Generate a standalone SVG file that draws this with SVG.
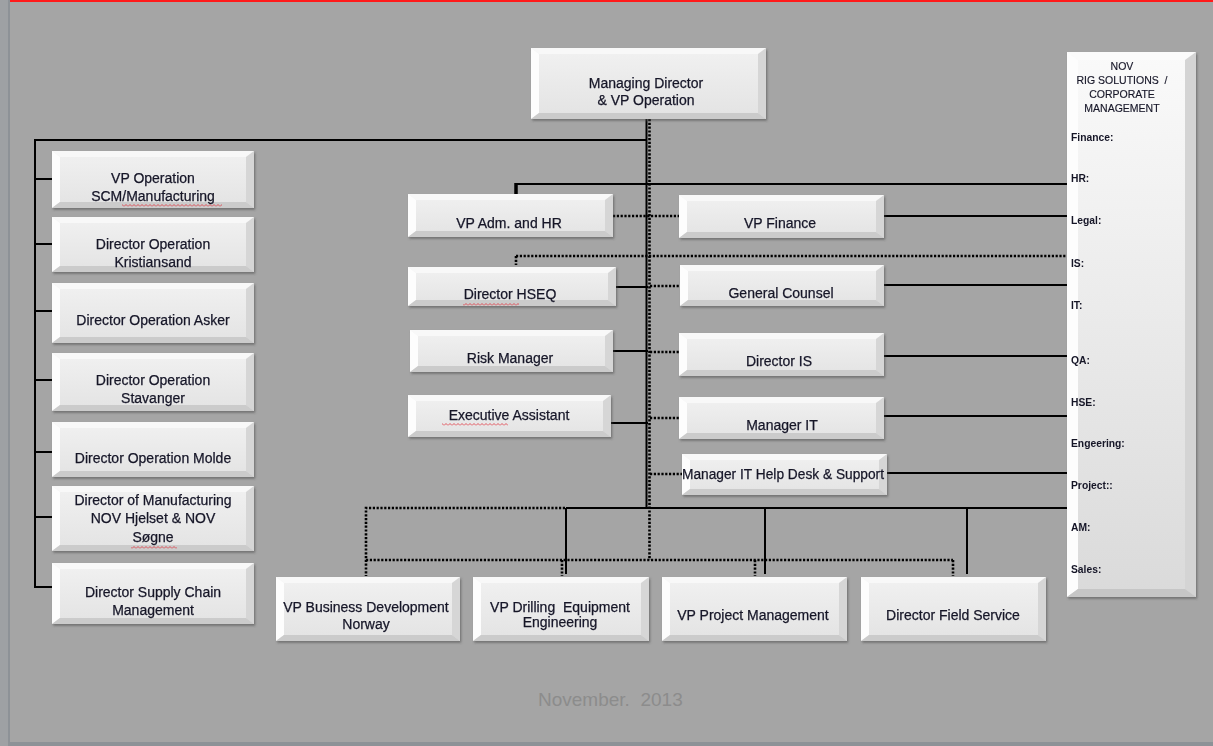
<svg xmlns="http://www.w3.org/2000/svg" width="1213" height="746" viewBox="0 0 1213 746">
  <defs>
    <linearGradient id="faceG" x1="0" y1="0" x2="0" y2="1">
      <stop offset="0" stop-color="#f1f1f1"/>
      <stop offset="1" stop-color="#e3e3e3"/>
    </linearGradient>
    <linearGradient id="panelG" x1="0" y1="0" x2="0" y2="1">
      <stop offset="0" stop-color="#fafafa"/>
      <stop offset="1" stop-color="#dadada"/>
    </linearGradient>
    <filter id="shadow" x="-5%" y="-10%" width="115%" height="130%">
      <feDropShadow dx="1.2" dy="1.8" stdDeviation="1.1" flood-color="#4a4a4a" flood-opacity="0.55"/>
    </filter>
    <pattern id="squiggle" width="4" height="3" patternUnits="userSpaceOnUse">
      <path d="M0,2.5 L2,0.5 L4,2.5" fill="none" stroke="#e0303a" stroke-width="0.8"/>
    </pattern>
  </defs>
  <style>
    .face { fill: url(#faceG); }
    .bt { fill: #f8f8f8; }
    .bl { fill: #fdfdfd; }
    .br { fill: #d6d6d6; }
    .bb { fill: #cbcbcb; }
    .box { filter: url(#shadow); }
    .t { font-family: "Liberation Sans", Arial, sans-serif; font-size: 14px; fill: #161628; stroke: #161628; stroke-width: 0.25; text-anchor: middle; }
    .pt { font-family: "Liberation Sans", Arial, sans-serif; font-size: 10.5px; fill: #161628; stroke: #161628; stroke-width: 0.15; text-anchor: middle; }
    .pl { font-family: "Liberation Sans", Arial, sans-serif; font-size: 10.3px; font-weight: bold; fill: #161628; }
    .solid { fill: none; stroke: #000; stroke-width: 2; }
    .dot { fill: none; stroke: #000; stroke-width: 2.6; stroke-dasharray: 2.2 1.6; }
    .sq { fill: url(#squiggle); }
  </style>

  <!-- slide background -->
  <rect x="0" y="0" width="1213" height="746" fill="#8d9297"/>
  <rect x="0" y="0" width="8" height="746" fill="#9ea1a4"/>
  <rect x="10" y="0" width="1203" height="742" fill="#a5a5a5"/>
  <rect x="10" y="0" width="1203" height="2" fill="#ff1a1a"/>

  <!-- connectors -->
  <g id="connectors">
    <!-- main trunk -->
    <line class="solid" x1="646.5" y1="119" x2="646.5" y2="508" stroke-width="2.5"/>
    <line class="dot" x1="649.5" y1="119" x2="649.5" y2="560" stroke-width="3.5"/>
    <!-- left column bus -->
    <polyline class="solid" points="647,140 35,140 35,587 52,587"/>
    <line class="solid" x1="35" y1="179" x2="52" y2="179"/>
    <line class="solid" x1="35" y1="244" x2="52" y2="244"/>
    <line class="solid" x1="35" y1="311" x2="52" y2="311"/>
    <line class="solid" x1="35" y1="380" x2="52" y2="380"/>
    <line class="solid" x1="35" y1="452" x2="52" y2="452"/>
    <line class="solid" x1="35" y1="517" x2="52" y2="517"/>
    <!-- HR line and VP Adm stub -->
    <line class="solid" x1="516" y1="184" x2="1067" y2="184"/>
    <line x1="516" y1="183" x2="516" y2="194" stroke="#000" stroke-width="3.5"/>
    <!-- IS dotted line and stub -->
    <line class="dot" x1="516" y1="256" x2="1067" y2="256"/>
    <line class="dot" x1="516" y1="256" x2="516" y2="265" stroke-width="3"/>
    <!-- VP Adm to VP Finance -->
    <line class="dot" x1="613" y1="216" x2="679" y2="216"/>
    <!-- middle rows -->
    <line class="solid" x1="616" y1="287" x2="648" y2="287"/>
    <line class="dot" x1="650" y1="286" x2="680" y2="286"/>
    <line class="solid" x1="613" y1="351" x2="648" y2="351"/>
    <line class="dot" x1="650" y1="352" x2="679" y2="352"/>
    <line class="solid" x1="611" y1="423" x2="648" y2="423"/>
    <line class="dot" x1="650" y1="418" x2="679" y2="418"/>
    <line class="dot" x1="650" y1="474" x2="682" y2="474"/>
    <!-- lines to corporate panel -->
    <line class="solid" x1="884" y1="216" x2="1067" y2="216"/>
    <line class="solid" x1="884" y1="285" x2="1067" y2="285"/>
    <line class="solid" x1="884" y1="356" x2="1067" y2="356"/>
    <line class="solid" x1="884" y1="416" x2="1067" y2="416"/>
    <line class="solid" x1="887" y1="473" x2="1067" y2="473"/>
    <!-- bottom solid bus -->
    <line class="solid" x1="566" y1="508" x2="1067" y2="508"/>
    <line class="solid" x1="566" y1="508" x2="566" y2="574"/>
    <line class="solid" x1="765" y1="508" x2="765" y2="574"/>
    <line class="solid" x1="967" y1="508" x2="967" y2="574"/>
    <!-- bottom dotted bus -->
    <polyline class="dot" points="565,508 366,508 366,576"/>
    <line class="dot" x1="366" y1="560" x2="953" y2="560"/>
    <line class="dot" x1="562" y1="560" x2="562" y2="576"/>
    <line class="dot" x1="755" y1="560" x2="755" y2="576"/>
    <line class="dot" x1="953" y1="560" x2="953" y2="576"/>
  </g>

  <!-- top node -->
  <g id="managing-director" class="box">
    <rect class="face" x="531" y="48" width="235" height="71"/>
    <polygon class="bt" points="531,48 766,48 758,54 539,54"/>
    <polygon class="bl" points="531,48 539,54 539,113 531,119"/>
    <polygon class="br" points="766,48 766,119 758,113 758,54"/>
    <polygon class="bb" points="531,119 539,113 758,113 766,119"/>
    <text class="t" x="646" y="88">Managing Director</text>
    <text class="t" x="646" y="105">&amp; VP Operation</text>
  </g>

  <!-- left column -->
  <g id="vp-operation-scm" class="box">
    <rect class="face" x="52" y="151" width="202" height="57"/>
    <polygon class="bt" points="52,151 254,151 246,157 60,157"/>
    <polygon class="bl" points="52,151 60,157 60,202 52,208"/>
    <polygon class="br" points="254,151 254,208 246,202 246,157"/>
    <polygon class="bb" points="52,208 60,202 246,202 254,208"/>
    <text class="t" x="153" y="183">VP Operation</text>
    <text class="t" x="153" y="201">SCM/Manufacturing</text>
    <rect class="sq" x="122" y="204" width="100" height="3"/>
  </g>
  <g id="director-kristiansand" class="box">
    <rect class="face" x="52" y="217" width="202" height="55"/>
    <polygon class="bt" points="52,217 254,217 246,223 60,223"/>
    <polygon class="bl" points="52,217 60,223 60,266 52,272"/>
    <polygon class="br" points="254,217 254,272 246,266 246,223"/>
    <polygon class="bb" points="52,272 60,266 246,266 254,272"/>
    <text class="t" x="153" y="249">Director Operation</text>
    <text class="t" x="153" y="267">Kristiansand</text>
  </g>
  <g id="director-asker" class="box">
    <rect class="face" x="52" y="283" width="202" height="60"/>
    <polygon class="bt" points="52,283 254,283 246,289 60,289"/>
    <polygon class="bl" points="52,283 60,289 60,337 52,343"/>
    <polygon class="br" points="254,283 254,343 246,337 246,289"/>
    <polygon class="bb" points="52,343 60,337 246,337 254,343"/>
    <text class="t" x="153" y="325">Director Operation Asker</text>
  </g>
  <g id="director-stavanger" class="box">
    <rect class="face" x="52" y="353" width="202" height="58"/>
    <polygon class="bt" points="52,353 254,353 246,359 60,359"/>
    <polygon class="bl" points="52,353 60,359 60,405 52,411"/>
    <polygon class="br" points="254,353 254,411 246,405 246,359"/>
    <polygon class="bb" points="52,411 60,405 246,405 254,411"/>
    <text class="t" x="153" y="385">Director Operation</text>
    <text class="t" x="153" y="403">Stavanger</text>
  </g>
  <g id="director-molde" class="box">
    <rect class="face" x="52" y="422" width="202" height="55"/>
    <polygon class="bt" points="52,422 254,422 246,428 60,428"/>
    <polygon class="bl" points="52,422 60,428 60,471 52,477"/>
    <polygon class="br" points="254,422 254,477 246,471 246,428"/>
    <polygon class="bb" points="52,477 60,471 246,471 254,477"/>
    <text class="t" x="153" y="463">Director Operation Molde</text>
  </g>
  <g id="director-manufacturing" class="box">
    <rect class="face" x="52" y="486" width="202" height="65"/>
    <polygon class="bt" points="52,486 254,486 246,492 60,492"/>
    <polygon class="bl" points="52,486 60,492 60,545 52,551"/>
    <polygon class="br" points="254,486 254,551 246,545 246,492"/>
    <polygon class="bb" points="52,551 60,545 246,545 254,551"/>
    <text class="t" x="153" y="505">Director of Manufacturing</text>
    <text class="t" x="153" y="523">NOV Hjelset &amp; NOV</text>
    <text class="t" x="153" y="542">Søgne</text>
    <rect class="sq" x="131" y="546" width="46" height="3"/>
  </g>
  <g id="director-supply-chain" class="box">
    <rect class="face" x="52" y="563" width="202" height="61"/>
    <polygon class="bt" points="52,563 254,563 246,569 60,569"/>
    <polygon class="bl" points="52,563 60,569 60,618 52,624"/>
    <polygon class="br" points="254,563 254,624 246,618 246,569"/>
    <polygon class="bb" points="52,624 60,618 246,618 254,624"/>
    <text class="t" x="153" y="597">Director Supply Chain</text>
    <text class="t" x="153" y="615">Management</text>
  </g>

  <!-- staff column -->
  <g id="vp-adm-hr" class="box">
    <rect class="face" x="408" y="194" width="205" height="43"/>
    <polygon class="bt" points="408,194 613,194 605,200 416,200"/>
    <polygon class="bl" points="408,194 416,200 416,231 408,237"/>
    <polygon class="br" points="613,194 613,237 605,231 605,200"/>
    <polygon class="bb" points="408,237 416,231 605,231 613,237"/>
    <text class="t" x="509" y="228">VP Adm. and HR</text>
  </g>
  <g id="director-hseq" class="box">
    <rect class="face" x="408" y="267" width="208" height="39"/>
    <polygon class="bt" points="408,267 616,267 608,273 416,273"/>
    <polygon class="bl" points="408,267 416,273 416,300 408,306"/>
    <polygon class="br" points="616,267 616,306 608,300 608,273"/>
    <polygon class="bb" points="408,306 416,300 608,300 616,306"/>
    <text class="t" x="510" y="299">Director HSEQ</text>
    <rect class="sq" x="463" y="303" width="56" height="3"/>
  </g>
  <g id="risk-manager" class="box">
    <rect class="face" x="410" y="330" width="203" height="42"/>
    <polygon class="bt" points="410,330 613,330 605,336 418,336"/>
    <polygon class="bl" points="410,330 418,336 418,366 410,372"/>
    <polygon class="br" points="613,330 613,372 605,366 605,336"/>
    <polygon class="bb" points="410,372 418,366 605,366 613,372"/>
    <text class="t" x="510" y="363">Risk Manager</text>
  </g>
  <g id="executive-assistant" class="box">
    <rect class="face" x="408" y="395" width="203" height="42"/>
    <polygon class="bt" points="408,395 611,395 603,401 416,401"/>
    <polygon class="bl" points="408,395 416,401 416,431 408,437"/>
    <polygon class="br" points="611,395 611,437 603,431 603,401"/>
    <polygon class="bb" points="408,437 416,431 603,431 611,437"/>
    <text class="t" x="509" y="420">Executive Assistant</text>
    <rect class="sq" x="442" y="423" width="66" height="3"/>
  </g>

  <!-- functional column -->
  <g id="vp-finance" class="box">
    <rect class="face" x="679" y="195" width="205" height="43"/>
    <polygon class="bt" points="679,195 884,195 876,201 687,201"/>
    <polygon class="bl" points="679,195 687,201 687,232 679,238"/>
    <polygon class="br" points="884,195 884,238 876,232 876,201"/>
    <polygon class="bb" points="679,238 687,232 876,232 884,238"/>
    <text class="t" x="780" y="228">VP Finance</text>
  </g>
  <g id="general-counsel" class="box">
    <rect class="face" x="680" y="265" width="204" height="41"/>
    <polygon class="bt" points="680,265 884,265 876,271 688,271"/>
    <polygon class="bl" points="680,265 688,271 688,300 680,306"/>
    <polygon class="br" points="884,265 884,306 876,300 876,271"/>
    <polygon class="bb" points="680,306 688,300 876,300 884,306"/>
    <text class="t" x="781" y="298">General Counsel</text>
  </g>
  <g id="director-is" class="box">
    <rect class="face" x="679" y="333" width="205" height="43"/>
    <polygon class="bt" points="679,333 884,333 876,339 687,339"/>
    <polygon class="bl" points="679,333 687,339 687,370 679,376"/>
    <polygon class="br" points="884,333 884,376 876,370 876,339"/>
    <polygon class="bb" points="679,376 687,370 876,370 884,376"/>
    <text class="t" x="779" y="366">Director IS</text>
  </g>
  <g id="manager-it" class="box">
    <rect class="face" x="679" y="397" width="205" height="42"/>
    <polygon class="bt" points="679,397 884,397 876,403 687,403"/>
    <polygon class="bl" points="679,397 687,403 687,433 679,439"/>
    <polygon class="br" points="884,397 884,439 876,433 876,403"/>
    <polygon class="bb" points="679,439 687,433 876,433 884,439"/>
    <text class="t" x="782" y="430">Manager IT</text>
  </g>
  <g id="manager-it-helpdesk" class="box">
    <rect class="face" x="682" y="454" width="205" height="41"/>
    <polygon class="bt" points="682,454 887,454 879,460 690,460"/>
    <polygon class="bl" points="682,454 690,460 690,489 682,495"/>
    <polygon class="br" points="887,454 887,495 879,489 879,460"/>
    <polygon class="bb" points="682,495 690,489 879,489 887,495"/>
    <text class="t" x="783" y="479" textLength="202" lengthAdjust="spacingAndGlyphs">Manager IT Help Desk &amp; Support</text>
  </g>

  <!-- bottom row -->
  <g id="vp-business-development" class="box">
    <rect class="face" x="276" y="577" width="184" height="64"/>
    <polygon class="bt" points="276,577 460,577 452,583 284,583"/>
    <polygon class="bl" points="276,577 284,583 284,635 276,641"/>
    <polygon class="br" points="460,577 460,641 452,635 452,583"/>
    <polygon class="bb" points="276,641 284,635 452,635 460,641"/>
    <text class="t" x="366" y="612">VP Business Development</text>
    <text class="t" x="366" y="629">Norway</text>
  </g>
  <g id="vp-drilling-equipment" class="box">
    <rect class="face" x="473" y="577" width="176" height="64"/>
    <polygon class="bt" points="473,577 649,577 641,583 481,583"/>
    <polygon class="bl" points="473,577 481,583 481,635 473,641"/>
    <polygon class="br" points="649,577 649,641 641,635 641,583"/>
    <polygon class="bb" points="473,641 481,635 641,635 649,641"/>
    <text class="t" x="560" y="612" xml:space="preserve">VP Drilling  Equipment</text>
    <text class="t" x="560" y="627">Engineering</text>
  </g>
  <g id="vp-project-management" class="box">
    <rect class="face" x="662" y="577" width="185" height="64"/>
    <polygon class="bt" points="662,577 847,577 839,583 670,583"/>
    <polygon class="bl" points="662,577 670,583 670,635 662,641"/>
    <polygon class="br" points="847,577 847,641 839,635 839,583"/>
    <polygon class="bb" points="662,641 670,635 839,635 847,641"/>
    <text class="t" x="753" y="620">VP Project Management</text>
  </g>
  <g id="director-field-service" class="box">
    <rect class="face" x="861" y="577" width="185" height="64"/>
    <polygon class="bt" points="861,577 1046,577 1038,583 869,583"/>
    <polygon class="bl" points="861,577 869,583 869,635 861,641"/>
    <polygon class="br" points="1046,577 1046,641 1038,635 1038,583"/>
    <polygon class="bb" points="861,641 869,635 1038,635 1046,641"/>
    <text class="t" x="953" y="620">Director Field Service</text>
  </g>

  <!-- corporate management panel -->
  <g id="corporate-panel" class="box">
    <rect x="1067" y="52" width="129" height="545" fill="url(#panelG)"/>
    <polygon points="1067,52 1196,52 1185,60 1078,60" fill="#fbfbfb"/>
    <polygon points="1067,52 1078,60 1078,589 1067,597" fill="#fdfdfd"/>
    <polygon points="1196,52 1196,597 1185,589 1185,60" fill="#d4d4d4"/>
    <polygon points="1067,597 1078,589 1185,589 1196,597" fill="#c6c6c6"/>
    <text class="pt" x="1122" y="70">NOV</text>
    <text class="pt" x="1122" y="84" xml:space="preserve">RIG SOLUTIONS  /</text>
    <text class="pt" x="1122" y="98">CORPORATE</text>
    <text class="pt" x="1122" y="112">MANAGEMENT</text>
    <text class="pl" x="1071" y="141">Finance:</text>
    <text class="pl" x="1071" y="182">HR:</text>
    <text class="pl" x="1071" y="224">Legal:</text>
    <text class="pl" x="1071" y="267">IS:</text>
    <text class="pl" x="1071" y="309">IT:</text>
    <text class="pl" x="1071" y="364">QA:</text>
    <text class="pl" x="1071" y="406">HSE:</text>
    <text class="pl" x="1071" y="447">Engeering:</text>
    <text class="pl" x="1071" y="489">Project::</text>
    <text class="pl" x="1071" y="531">AM:</text>
    <text class="pl" x="1071" y="573">Sales:</text>
  </g>

  <!-- footer date -->
  <text x="538" y="706" font-family="'Liberation Sans', Arial, sans-serif" font-size="19" fill="#8c8c8c" xml:space="preserve">November.  2013</text>
</svg>
